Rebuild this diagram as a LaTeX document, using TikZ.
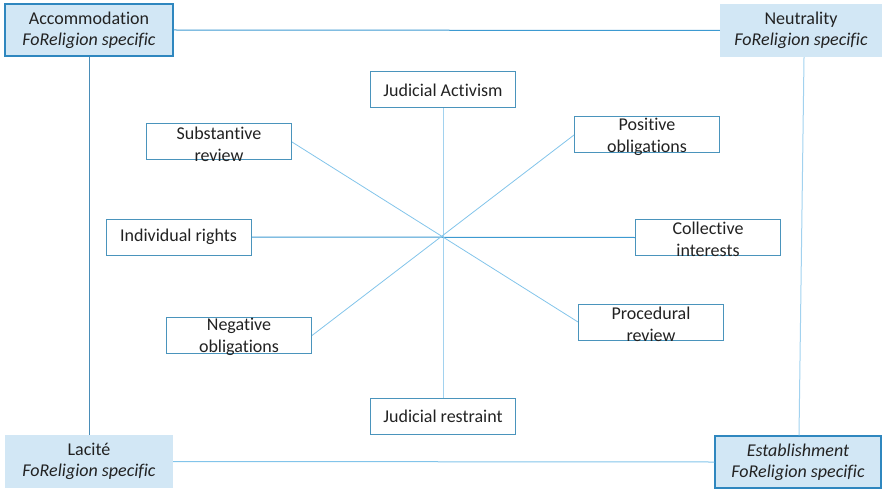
\documentclass[tikz,border=0pt]{standalone}
\usepackage{fontspec}
\setmainfont{Carlito}[Ligatures=NoCommon]
\usepackage{tikz}
\usetikzlibrary{calc}

\definecolor{cornerfill}{HTML}{D2E7F5}
\definecolor{cornerdraw}{HTML}{2F87BF}
\definecolor{celldraw}{HTML}{4A94BC}
\definecolor{darkline}{HTML}{3D9AD1}
\definecolor{sideline}{HTML}{4A8DB8}
\definecolor{paleline}{HTML}{A2D2EF}
\definecolor{diagline}{HTML}{82C4EA}
\definecolor{inktext}{HTML}{222222}

\tikzset{
  corner/.style={fill=cornerfill, minimum width=168pt, minimum height=52pt,
    align=center, text=inktext, font=\fontsize{18}{21}\selectfont},
  cornerframe/.style={corner, draw=cornerdraw, line width=1.4pt},
  cell/.style={draw=celldraw, line width=1pt, fill=white,
    minimum width=145pt, minimum height=36pt, text=inktext,
    font=\fontsize{18}{22}\selectfont},
  celltext/.style={inner sep=0pt, align=center, text=inktext,
    font=\fontsize{18}{22}\selectfont}
}

\begin{document}
\begin{tikzpicture}[x=1pt,y=-1pt]
\useasboundingbox (0,0) rectangle (882,489);

% the four corner boxes
\node[cornerframe] (accom) at (89,30) {Accommodation\\\textit{FoReligion specific}};
\node[corner, minimum width=162pt, minimum height=53pt] (neutr) at (801,30.5) {Neutrality\\\textit{FoReligion specific}};
\node[corner, minimum height=53pt] (lacite) at (89,461.5) {Lacit\'e\\\textit{FoReligion specific}};
\node[cornerframe, minimum width=166pt] (estab) at (798,462) {\textit{Establishment}\\\textit{FoReligion specific}};

% outer frame between the corners
\draw[darkline, line width = 1pt] (accom.east) -- (neutr.west);
\draw[sideline, line width = 1pt] (accom.south) -- (lacite.north);
\draw[paleline, line width = 1pt] ([xshift=3pt]neutr.south) -- ([xshift=1pt]estab.north);
\draw[diagline, line width = 1pt] (lacite.east) -- (estab.west);

% boxes round the centre
\node[cell] (activ) at (443,90) {Judicial Activism};
\node[cell] (restr) at (443,416.5) {Judicial restraint};
\node[cell] (indiv) at (178.5,237) {Individual rights};
\node[cell] (collect) at (708,237.5) {};
\node[cell] (subst) at (219,142) {};
\node[cell] (posit) at (647,135) {};
\node[cell] (negat) at (239,335.5) {};
\node[cell] (proced) at (651,322) {};

\node[celltext] (collectT) at ([yshift=-1.5pt]collect) {Collective\\interests};
\node[celltext] (substT) at ([yshift=-2.5pt]subst) {Substantive\\review};
\node[celltext] (positT) at ([yshift=-1.5pt]posit) {Positive\\obligations};
\node[celltext] (negatT) at ([yshift=-1.5pt]negat) {Negative\\obligations};
\node[celltext] (procedT) at ([yshift=-2.5pt]proced) {Procedural\\review};

% the star through the middle
\draw[paleline, line width = 1pt] (activ.south) -- (restr.north);
\draw[darkline, line width = 1pt] (indiv.east) -- (collect.west);
\draw[diagline, line width = 0.8pt] (subst.east) -- (proced.west);
\draw[diagline, line width = 0.8pt] (posit.west) -- (negat.east);

\end{tikzpicture}
\end{document}
